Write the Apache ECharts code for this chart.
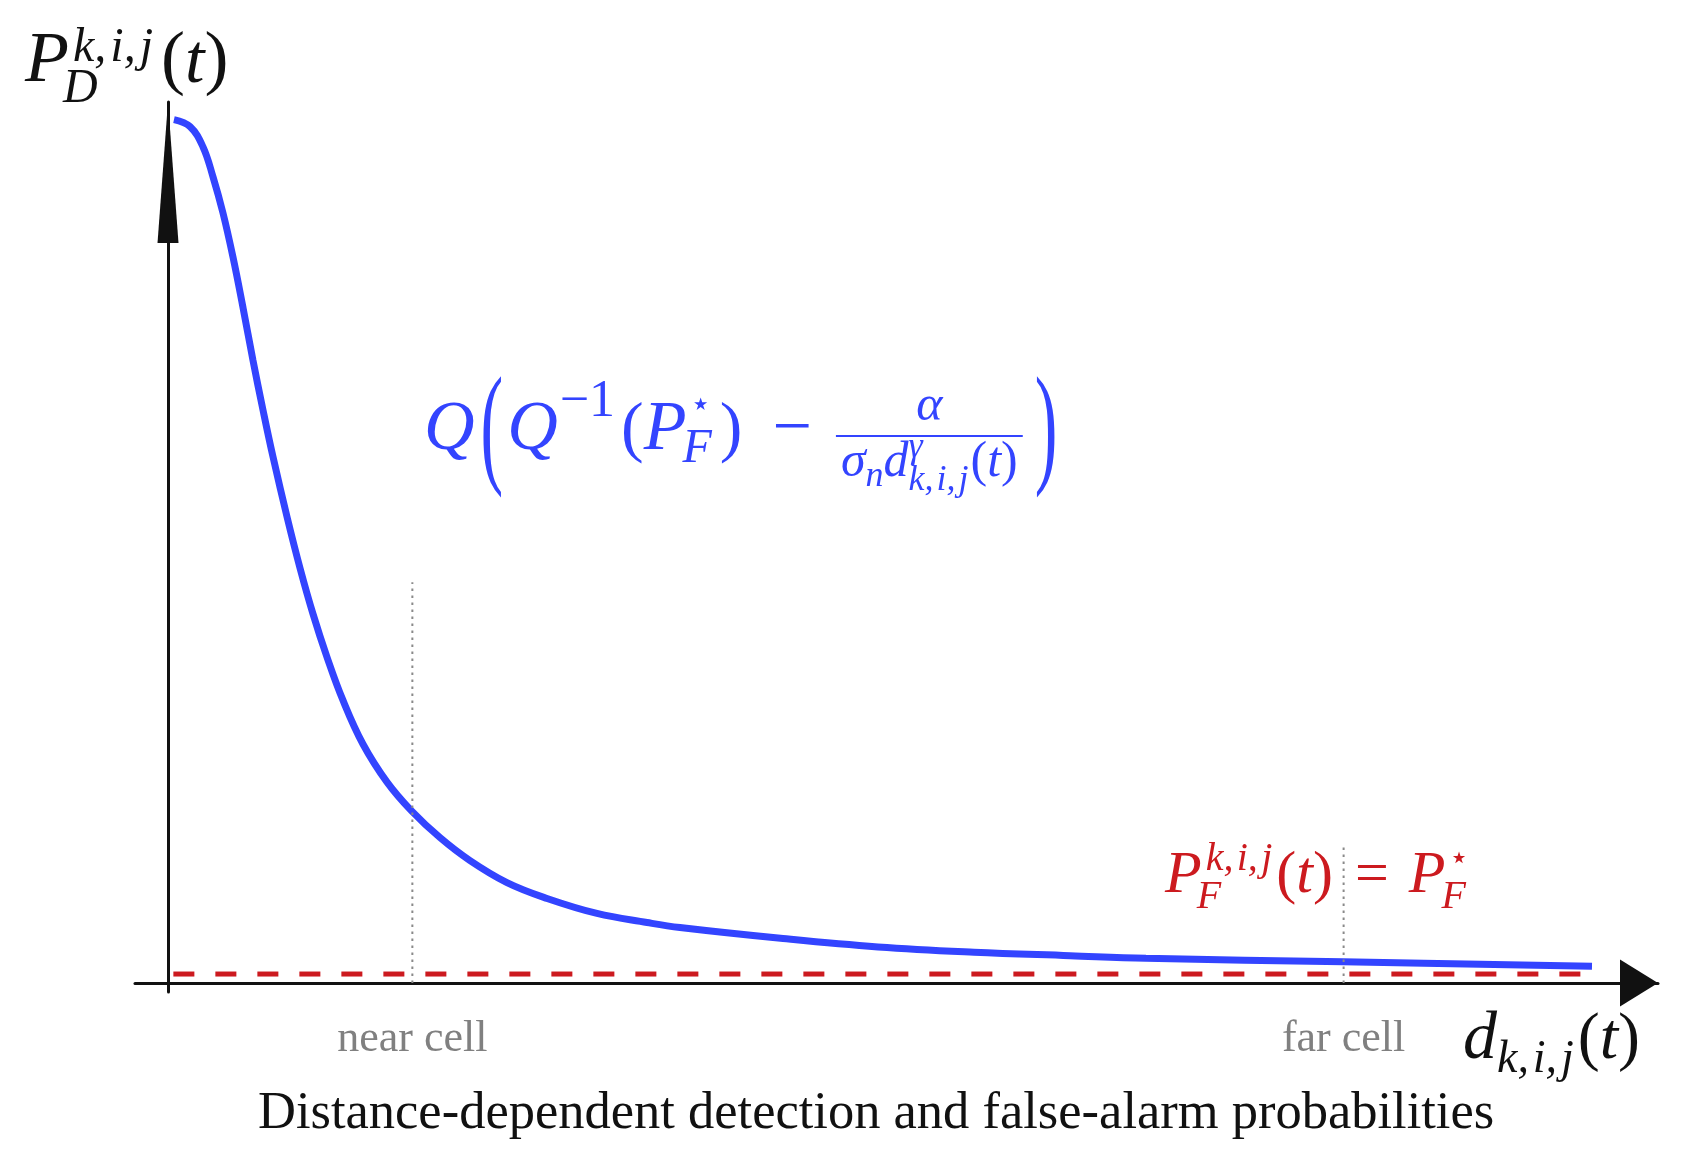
<!DOCTYPE html>
<html>
<head>
<meta charset="utf-8" />
<title>Distance-dependent detection and false-alarm probabilities</title>
<script src="https://cdn.jsdelivr.net/npm/echarts@6/dist/echarts.min.js"></script>
<style>
	html, body { margin: 0; padding: 0; background: #fff; }
	#main { width: 1681px; height: 1162px; }
</style>
</head>
<body>
<div id="main"></div>
<script type="text/javascript">
// distance (arbitrary units) and detection probability
var distance = [0.40, 1.48, 2.35, 3.02, 3.69, 4.36, 5.03, 5.70, 6.38, 7.05, 7.99, 8.86, 9.73, 10.67, 11.74, 13.09, 14.70, 16.31, 18.26, 20.27, 22.75, 25.44, 28.79, 32.15, 34.36, 41.28, 47.65, 54.09, 60.54, 65.64, 78.86, 95.57];
var detectionProb = [0.980, 0.972, 0.949, 0.915, 0.874, 0.824, 0.767, 0.707, 0.650, 0.597, 0.529, 0.471, 0.419, 0.370, 0.321, 0.271, 0.228, 0.196, 0.165, 0.139, 0.114, 0.096, 0.079, 0.0687, 0.0630, 0.0505, 0.041, 0.035, 0.031, 0.028, 0.024, 0.019];

// constant false-alarm level P_F*
var falseAlarmLevel = 0.0102;
var falseAlarmRange = [0.36, 94.97];

// reference cells on the distance axis
var cellNames = ['near cell', 'far cell'];
var cellDistance = [16.4, 78.9];
var cellGuideTop = [0.455, 0.159];

var titleText = 'Distance-dependent detection and false-alarm probabilities';

var blue = '#3344ff';
var red = '#cc1a1f';
var ink = '#111111';
var kij = 'k,\u200ai,\u200aj';

// ---- little helper to lay out math-like labels with sub/superscripts ----
var ctx = document.createElement('canvas').getContext('2d');
function fontOf(r) {
	return (r.it ? 'italic ' : '') + r.s + 'px "Liberation Serif", "DejaVu Serif", serif';
}
function measure(r) {
	ctx.font = fontOf(r);
	return ctx.measureText(r.t).width;
}
function mathText(x0, base, runs, color) {
	var els = [], x = x0, held = 0;
	runs.forEach(function (r) {
		var w = measure(r);
		var dx = r.dx || 0;
		var cy = r.cy != null ? r.cy : base + (r.dy || 0) - 0.34 * r.s;
		els.push({
			type: 'text',
			x: x + dx,
			y: cy,
			scaleY: r.sy || 1,
			silent: true,
			style: {
				text: r.t, font: fontOf(r), fill: color,
				align: 'left', verticalAlign: 'middle',
				textAlign: 'left', textVerticalAlign: 'middle'
			}
		});
		if (r.hold) {
			held = w + dx;
		} else {
			x += Math.max(w + dx, held);
			held = 0;
		}
	});
	return { els: els, end: x };
}
function widthOf(runs) {
	var x = 0, held = 0;
	runs.forEach(function (r) {
		var w = measure(r) + (r.dx || 0);
		if (r.hold) { held = w; } else { x += Math.max(w, held); held = 0; }
	});
	return x;
}

var graphics = [];

// y axis name  P_D^{k,i,j}(t)
graphics = graphics.concat(mathText(25, 87, [
	{ t: 'P', s: 72, it: 1 },
	{ t: kij, s: 48, it: 1, dy: -22, dx: 4, hold: 1 },
	{ t: 'D', s: 48, it: 1, dy: 19, dx: -6 },
	{ t: '(', s: 72, dx: 8 },
	{ t: 't', s: 70, it: 1 },
	{ t: ')', s: 72 }
], ink).els);

// x axis name  d_{k,i,j}(t)
graphics = graphics.concat(mathText(1463, 1063, [
	{ t: 'd', s: 68, it: 1 },
	{ t: kij, s: 46, it: 1, dy: 13 },
	{ t: '(', s: 66, dx: 4 },
	{ t: 't', s: 66, it: 1 },
	{ t: ')', s: 66 }
], ink).els);

// red label  P_F^{k,i,j}(t) = P_F*
graphics = graphics.concat(mathText(1165, 897, [
	{ t: 'P', s: 60, it: 1 },
	{ t: kij, s: 40, it: 1, dy: -24, dx: 4, hold: 1 },
	{ t: 'F', s: 40, it: 1, dy: 14, dx: -5 },
	{ t: '(', s: 60, dx: 4 },
	{ t: 't', s: 60, it: 1 },
	{ t: ')', s: 60 },
	{ t: '=', s: 60, dx: 22 },
	{ t: 'P', s: 60, it: 1, dx: 20 },
	{ t: '\u22c6', s: 32, dy: -27, dx: 4, hold: 1 },
	{ t: 'F', s: 40, it: 1, dy: 14, dx: -4 }
], red).els);

// blue formula  Q( Q^{-1}(P_F*) - alpha / (sigma_n d^gamma_{k,i,j}(t)) )
var fBase = 454;
var left = mathText(424, fBase, [
	{ t: 'Q', s: 70, it: 1 },
	{ t: '(', s: 68, sy: 1.95, cy: 434, dx: 6 },
	{ t: 'Q', s: 70, it: 1, dx: 4 },
	{ t: '\u22121', s: 52, dy: -34, dx: 2 },
	{ t: '(', s: 68, dx: 6 },
	{ t: 'P', s: 70, it: 1 },
	{ t: '\u22c6', s: 34, dy: -36, dx: 4, hold: 1 },
	{ t: 'F', s: 48, it: 1, dy: 12, dx: -4 },
	{ t: ')', s: 68, dx: 8 },
	{ t: '\u2212', s: 70, dx: 30 }
], blue);
graphics = graphics.concat(left.els);
var denRuns = [
	{ t: '\u03c3', s: 50, it: 1 },
	{ t: 'n', s: 36, it: 1, dy: 9 },
	{ t: 'd', s: 50, it: 1 },
	{ t: '\u03b3', s: 36, it: 1, dy: -20, hold: 1 },
	{ t: kij, s: 36, it: 1, dy: 13 },
	{ t: '(', s: 50, dx: 2 },
	{ t: 't', s: 50, it: 1 },
	{ t: ')', s: 50 }
];
var numRuns = [{ t: '\u03b1', s: 50, it: 1 }];
var fracX = left.end + 24;
var denW = widthOf(denRuns);
var barW = denW + 10;
var numW = widthOf(numRuns);
graphics = graphics.concat(mathText(fracX + (barW - numW) / 2, 424, numRuns, blue).els);
graphics = graphics.concat(mathText(fracX + 5, 480, denRuns, blue).els);
graphics.push({
	type: 'line', silent: true,
	shape: { x1: fracX, y1: 436, x2: fracX + barW, y2: 436 },
	style: { stroke: blue, lineWidth: 2 }
});
graphics = graphics.concat(mathText(fracX + barW + 12, fBase, [
	{ t: ')', s: 68, sy: 1.95, cy: 434 }
], blue).els);

// ---- series data built from the arrays ----
var curve = distance.map(function (d, i) { return [d, detectionProb[i]]; });
var falseAlarm = falseAlarmRange.map(function (d) { return [d, falseAlarmLevel]; });

var guideSeries = cellDistance.map(function (d, i) {
	return {
		type: 'line',
		data: [[d, 0], [d, cellGuideTop[i]]],
		symbol: 'none',
		z: 5,
		lineStyle: { color: '#8a8a8a', width: 2, type: [2.5, 4.5] }
	};
});

var myChart = echarts.init(document.getElementById('main'));

var option = {
	animation: false,
	backgroundColor: '#ffffff',
	title: {
		text: titleText,
		left: 258,
		top: 1088,
		padding: 0,
		textStyle: {
			fontFamily: '"Liberation Serif", serif',
			fontSize: 52.5,
			fontWeight: 'normal',
			color: ink
		}
	},
	grid: { left: 135, right: 23, top: 102, bottom: 170 },
	xAxis: {
		type: 'value',
		min: -2.215,
		max: 100,
		splitLine: { show: false },
		axisTick: { show: false },
		axisLine: {
			onZero: true,
			symbol: ['none', 'triangle'],
			symbolSize: [47, 38],
			symbolOffset: [0, -19],
			lineStyle: { color: ink, width: 3 }
		},
		axisLabel: {
			customValues: cellDistance,
			margin: 25,
			color: '#808080',
			fontFamily: '"Liberation Serif", serif',
			fontSize: 44,
			formatter: function (v) {
				var best = 0;
				cellDistance.forEach(function (d, i) {
					if (Math.abs(d - v) < Math.abs(cellDistance[best] - v)) best = i;
				});
				return cellNames[best];
			}
		}
	},
	yAxis: {
		type: 'value',
		min: -0.0102,
		max: 1,
		splitLine: { show: false },
		axisTick: { show: false },
		axisLabel: { show: false },
		axisLine: {
			onZero: true,
			symbol: ['none', 'triangle'],
			symbolSize: [21, 141],
			symbolOffset: [0, -70.5],
			lineStyle: { color: ink, width: 3 }
		}
	},
	graphic: graphics,
	series: [
		{
			type: 'line',
			data: curve,
			symbol: 'none',
			smooth: 0.4,
			z: 3,
			lineStyle: { color: blue, width: 7 }
		},
		{
			type: 'line',
			data: falseAlarm,
			symbol: 'none',
			z: 2,
			lineStyle: { color: red, width: 5, type: [21, 21], cap: 'butt' }
		}
	].concat(guideSeries)
};

myChart.setOption(option);
</script>
</body>
</html>
